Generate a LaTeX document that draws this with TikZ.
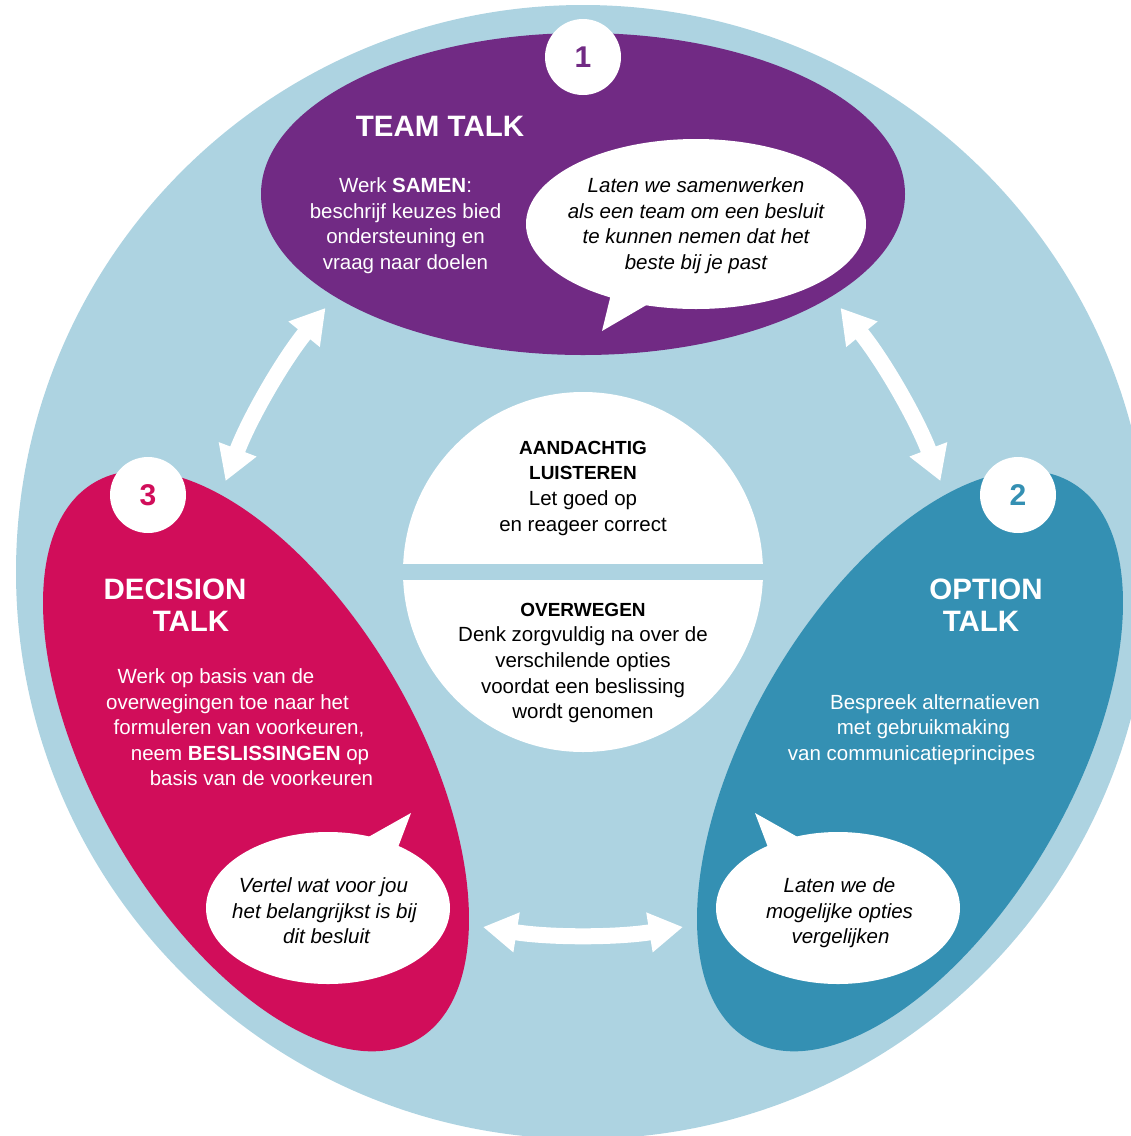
\documentclass[tikz,border=0pt]{standalone}
\usepackage{fontspec}
\setmainfont{Liberation Sans}
\usetikzlibrary{arrows.meta}

\definecolor{ringblue}{HTML}{ADD3E1}
\definecolor{teampurple}{HTML}{712A84}
\definecolor{decisionred}{HTML}{D10D5A}
\definecolor{optionblue}{HTML}{3490B3}

\tikzset{
  phase/.style={x radius=322, y radius=161},
  numdisc/.style={circle, fill=white, minimum size=76pt, inner sep=0pt,
    font=\fontsize{30}{30}\selectfont\bfseries},
  heading/.style={font=\fontsize{29.5}{32}\selectfont\bfseries, text=white,
    anchor=base, inner sep=0pt},
  bodyline/.style={font=\fontsize{20.5}{25.7}\selectfont, text=white,
    anchor=mid, inner sep=0pt},
  quoteline/.style={font=\fontsize{20.5}{25.7}\selectfont\itshape, text=black,
    anchor=mid, inner sep=0pt},
  coreline/.style={font=\fontsize{20.5}{25.7}\selectfont, text=black,
    anchor=mid, inner sep=0pt},
  corehead/.style={font=\fontsize{19}{25.7}\selectfont\bfseries, text=black,
    anchor=mid, inner sep=0pt},
  flow/.style={white, line width=16pt,
    arrows={Triangle[length=34pt,width=38pt]-Triangle[length=34pt,width=38pt]}},
}

\begin{document}
\begin{tikzpicture}[x=1pt, y=-1pt]
  \useasboundingbox (0,0) rectangle (1131,1136);
  \clip (0,0) rectangle (1131,1136);

  % outer ring
  \fill[ringblue] (583,572) circle[radius=567];

  % the three phases
  \fill[teampurple] (583,194) ellipse[phase];
  \fill[decisionred, rotate around={-60:(256,761)}] (256,761) ellipse[phase];
  \fill[optionblue, rotate around={60:(910,761)}] (910,761) ellipse[phase];

  % speech bubbles and their tails
  \fill[white] (696,224) ellipse[x radius=170, y radius=85];
  \fill[white] (612,290) -- (602,331) -- (655,300) -- cycle;
  \fill[white] (328,908) ellipse[x radius=122, y radius=76];
  \fill[white] (363,840) -- (411,813) -- (397,850) -- cycle;
  \fill[white] (838,908) ellipse[x radius=122, y radius=76];
  \fill[white] (803,840) -- (755,813) -- (769,850) -- cycle;

  % central disc split by a band
  \fill[white] (583,572) circle[radius=180];
  \fill[ringblue] (395,564) rectangle (771,580);

  % double arrows between the phases
  \foreach \ang/\nm in {0/bottom, -120/left, 120/right} {
    \begin{scope}[rotate around={\ang:(583,572)}]
      \coordinate (\nm-a) at (483,927);
      \coordinate (\nm-b) at (683,927);
      \draw[flow] (\nm-a) .. controls +(66.7,10.7) and +(-66.7,10.7) .. (\nm-b);
    \end{scope}
  }

  % number discs
  \node[numdisc, text=teampurple] (n1) at (583,57) {1};
  \node[numdisc, text=optionblue] (n2) at (1018,495) {2};
  \node[numdisc, text=decisionred] (n3) at (148,495) {3};

  % team talk
  \node[heading] (tt) at (440,136) {TEAM TALK};
  \node[bodyline] (tt1) at (405.5,190) {Werk \textbf{SAMEN}:};
  \node[bodyline] (tt2) at (405.5,216) {beschrijf keuzes bied};
  \node[bodyline] (tt3) at (405.5,241) {ondersteuning en};
  \node[bodyline] (tt4) at (405.5,267) {vraag naar doelen};
  \node[quoteline] (tq1) at (696,190) {Laten we samenwerken};
  \node[quoteline] (tq2) at (696,216) {als een team om een besluit};
  \node[quoteline] (tq3) at (696,241) {te kunnen nemen dat het};
  \node[quoteline] (tq4) at (696,267) {beste bij je past};

  % decision talk
  \node[heading] (dt1) at (175,599) {DECISION};
  \node[heading] (dt2) at (191,631) {TALK};
  \node[bodyline] (db1) at (216,681) {Werk op basis van de};
  \node[bodyline] (db2) at (227.5,707) {overwegingen toe naar het};
  \node[bodyline] (db3) at (239,732) {formuleren van voorkeuren,};
  \node[bodyline] (db4) at (250,758) {neem \textbf{BESLISSINGEN} op};
  \node[bodyline] (db5) at (261.5,783) {basis van de voorkeuren};
  \node[quoteline] (dq1) at (323.5,890) {Vertel wat voor jou};
  \node[quoteline] (dq2) at (324.5,916) {het belangrijkst is bij};
  \node[quoteline] (dq3) at (326.5,941) {dit besluit};

  % option talk
  \node[heading] (ot1) at (986,599) {OPTION};
  \node[heading] (ot2) at (981,631) {TALK};
  \node[bodyline] (ob1) at (935,707) {Bespreek alternatieven};
  \node[bodyline] (ob2) at (923.5,732) {met gebruikmaking};
  \node[bodyline] (ob3) at (911.5,758) {van communicatieprincipes};
  \node[quoteline] (oq1) at (839.5,890) {Laten we de};
  \node[quoteline] (oq2) at (839.5,916) {mogelijke opties};
  \node[quoteline] (oq3) at (840.5,941) {vergelijken};

  % central disc texts
  \node[corehead] (ch1) at (583,452) {AANDACHTIG};
  \node[corehead] (ch2) at (583,477) {LUISTEREN};
  \node[coreline] (cl1) at (583,503) {Let goed op};
  \node[coreline] (cl2) at (583,529) {en reageer correct};
  \node[corehead] (ch3) at (583,614) {OVERWEGEN};
  \node[coreline] (cl3) at (583,639) {Denk zorgvuldig na over de};
  \node[coreline] (cl4) at (583,665) {verschilende opties};
  \node[coreline] (cl5) at (583,691) {voordat een beslissing};
  \node[coreline] (cl6) at (583,716) {wordt genomen};
\end{tikzpicture}
\end{document}
